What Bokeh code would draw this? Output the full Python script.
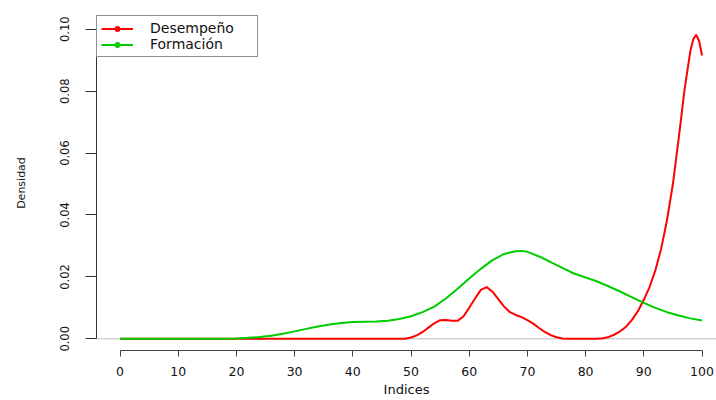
from bokeh.plotting import figure
from bokeh.models import (Range1d, FixedTicker, Span, Legend, LegendItem,
                          ColumnDataSource, NumeralTickFormatter)
from bokeh.embed import file_html
from bokeh.resources import INLINE

# ---- data (density estimates) ----
x_desempeno = [0, 20, 40, 48, 49, 50, 51, 52, 53, 54, 55, 56, 57, 58, 59, 60,
               61, 62, 63, 64, 65, 66, 67, 68, 69, 70, 71, 72, 73, 74, 75, 76,
               77, 80, 82, 83, 84, 85, 86, 87, 88, 89, 90, 91, 92, 93, 94, 95,
               96, 97, 98, 98.5, 99, 99.5, 100]
y_desempeno = [0, 0, 0, 0, 0.0000, 0.0004, 0.0011, 0.0022, 0.0036, 0.0050,
               0.0060, 0.0061, 0.0058, 0.0058, 0.0072, 0.0100, 0.0130, 0.0158,
               0.0167, 0.0152, 0.0128, 0.0104, 0.0086, 0.0077, 0.0070, 0.0060,
               0.0049, 0.0035, 0.0022, 0.0012, 0.0005, 0.0001, 0.0000, 0.0000,
               0.0000, 0.0002, 0.0006, 0.0014, 0.0025, 0.0040, 0.0062, 0.0090,
               0.0126, 0.0168, 0.0222, 0.0292, 0.0385, 0.0500, 0.0648, 0.0805,
               0.0930, 0.0968, 0.0982, 0.0962, 0.0915]

x_formacion = [0, 10, 18, 20, 22, 24, 26, 28, 30, 32, 34, 36, 38, 40, 42, 44,
               46, 48, 50, 52, 54, 56, 58, 60, 62, 64, 66, 67, 68, 69, 70, 72,
               74, 76, 78, 80, 82, 84, 86, 88, 90, 92, 94, 96, 98, 100]
y_formacion = [0, 0, 0, 0.0001, 0.0003, 0.0006, 0.0010, 0.0016, 0.0024,
               0.0032, 0.0040, 0.0046, 0.0051, 0.0054, 0.0055, 0.0056, 0.0058,
               0.0064, 0.0073, 0.0086, 0.0104, 0.0130, 0.0162, 0.0195, 0.0226,
               0.0254, 0.0274, 0.0279, 0.0283, 0.0284, 0.0281, 0.0266, 0.0248,
               0.0229, 0.0211, 0.0198, 0.0185, 0.0169, 0.0152, 0.0134, 0.0116,
               0.0100, 0.0086, 0.0075, 0.0066, 0.0059]

x_ticks = [0, 10, 20, 30, 40, 50, 60, 70, 80, 90, 100]
y_ticks = [0.00, 0.02, 0.04, 0.06, 0.08, 0.10]
series_names = ["Desempeño", "Formación"]
series_colors = ["#FF0000", "#00CD00"]

FONT = "DejaVu Sans"
TXT = "#111111"

p = figure(width=716, height=400,
           x_range=Range1d(-4.04, 102.49), y_range=Range1d(-0.00378, 0.10443),
           output_backend="svg", toolbar_location=None,
           min_border_left=96, min_border_right=0,
           min_border_top=15, min_border_bottom=50)
p.outline_line_color = None
p.xgrid.visible = False
p.ygrid.visible = False
p.background_fill_color = "white"
p.border_fill_color = "white"

# zero reference line
p.add_layout(Span(location=0, dimension="width", line_color="#BEBEBE",
                  line_width=1, level="underlay"))

r_red = p.line(x_desempeno, y_desempeno, line_color=series_colors[0], line_width=2)
r_green = p.line(x_formacion, y_formacion, line_color=series_colors[1], line_width=2)

# legend-only marker proxies (not drawn on the plot)
proxy = ColumnDataSource(data=dict(x=[float("nan")], y=[float("nan")]))
d_red = p.scatter("x", "y", source=proxy, marker="circle", size=6,
                  fill_color=series_colors[0], line_color=series_colors[0])
d_green = p.scatter("x", "y", source=proxy, marker="circle", size=6,
                    fill_color=series_colors[1], line_color=series_colors[1])

# x axis
xa = p.xaxis[0]
xa.bounds = (0, 100)
xa.ticker = FixedTicker(ticks=x_ticks)
xa.major_tick_out = 6
xa.major_tick_in = 0
xa.minor_tick_out = 0
xa.minor_tick_in = 0
xa.axis_line_color = "#444444"
xa.major_tick_line_color = "#444444"
xa.major_label_text_font = FONT
xa.major_label_text_font_size = "12.5px"
xa.major_label_text_color = TXT
xa.major_label_standoff = 10
xa.axis_label = "Indices"
xa.axis_label_text_font = FONT
xa.axis_label_text_font_size = "13px"
xa.axis_label_text_font_style = "normal"
xa.axis_label_text_color = TXT
xa.axis_label_standoff = 3

# y axis
ya = p.yaxis[0]
ya.bounds = (0, 0.1)
ya.ticker = FixedTicker(ticks=y_ticks)
ya.formatter = NumeralTickFormatter(format="0.00")
ya.major_tick_out = 11
ya.major_tick_in = 0
ya.minor_tick_out = 0
ya.minor_tick_in = 0
ya.axis_line_color = "#333333"
ya.major_tick_line_color = "#333333"
ya.major_label_orientation = "vertical"
ya.major_label_text_font = FONT
ya.major_label_text_font_size = "11.5px"
ya.major_label_text_color = TXT
ya.major_label_standoff = 16
ya.axis_label = "Densidad"
ya.axis_label_text_font = FONT
ya.axis_label_text_font_size = "11px"
ya.axis_label_text_font_style = "normal"
ya.axis_label_text_color = TXT
ya.axis_label_standoff = 30

legend = Legend(items=[LegendItem(label=series_names[0], renderers=[r_red, d_red]),
                       LegendItem(label=series_names[1], renderers=[r_green, d_green])],
                location="top_left", margin=0, padding=4, spacing=0,
                glyph_width=32, glyph_height=13, label_height=13,
                label_standoff=17, label_width=103,
                border_line_color="#222222", border_line_width=1,
                background_fill_color="white", background_fill_alpha=1,
                label_text_font=FONT, label_text_font_size="14px",
                label_text_color=TXT)
p.add_layout(legend)

open("out.html", "w").write(file_html(p, INLINE))
